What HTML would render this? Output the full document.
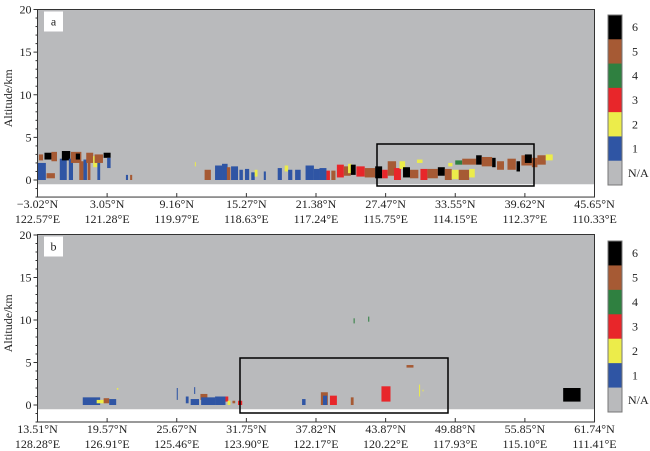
<!DOCTYPE html>
<html><head><meta charset="utf-8"><style>
body{margin:0;background:#fff;}
svg{display:block;}
svg text{font-family:"Liberation Serif","Times New Roman",Times,serif;}
</style></head><body>
<svg id="chart" width="650" height="451"></svg>
<script>
const classColors = ["#b9babc","#2f55a4","#ecec4a","#e8262a","#2f8040","#a65a34","#000000"];
const classLabels = ["N/A","1","2","3","4","5","6"];
const ticksA = ["−3.02°N|122.57°E","3.05°N|121.28°E","9.16°N|119.97°E","15.27°N|118.63°E","21.38°N|117.24°E","27.47°N|115.75°E","33.55°N|114.15°E","39.62°N|112.37°E","45.65°N|110.33°E"];
const ticksB = ["13.51°N|128.28°E","19.57°N|126.91°E","25.67°N|125.46°E","31.75°N|123.90°E","37.82°N|122.17°E","43.87°N|120.22°E","49.88°N|117.93°E","55.85°N|115.10°E","61.74°N|111.41°E"];
const yTicks = [0,5,10,15,20];
// blocks: [start index, width index, bottom km, top km, class]
const blocksA = [
[0,0.12,0,2,1],[0.02,0.06,2.3,3.0,5],[0.1,0.1,2.4,3.2,6],[0.13,0.12,0.2,0.8,5],[0.2,0.08,2.2,3.3,5],
[0.32,0.1,0,2.5,1],[0.35,0.12,2.3,3.4,6],[0.45,0.06,0,2.5,1],[0.48,0.15,2.0,3.3,5],[0.55,0.06,2.4,3.1,6],
[0.6,0.06,0,2.2,5],[0.66,0.05,0,2.4,1],[0.7,0.1,2.0,3.2,5],[0.72,0.04,0,2.2,5],[0.8,0.06,1.5,2.8,2],
[0.82,0.12,2.0,3.0,5],[0.86,0.04,0,2.0,1],[0.95,0.1,2.6,3.2,6],[1.0,0.05,1.4,2.6,1],
[1.27,0.03,0,0.6,1],[1.33,0.03,0,0.6,5],[2.26,0.01,1.6,2.1,2],
[2.4,0.09,0,1.2,5],[2.55,0.1,0,1.7,1],[2.65,0.08,0,1.9,1],[2.72,0.05,0,1.5,5],[2.78,0.1,0,1.6,1],[2.9,0.05,0,1.2,1],
[2.98,0.06,0,1.3,1],[3.07,0.05,0,0.9,1],[3.12,0.04,0.4,1.2,2],[3.25,0.03,0,1.0,1],[3.45,0.06,0,1.4,1],
[3.55,0.05,1.0,1.7,2],[3.6,0.06,0,1.2,1],[3.7,0.08,0,1.2,1],[3.85,0.12,0,1.7,1],[3.97,0.08,0,1.3,1],
[4.05,0.1,0,1.4,1],[4.15,0.05,0,1.1,3],[4.22,0.06,0,1.1,5],[4.3,0.1,0.3,1.8,3],[4.4,0.1,0.5,1.6,5],
[4.46,0.05,0.8,1.9,2],[4.5,0.07,0.6,1.8,6],[4.58,0.12,0.4,1.6,3],[4.7,0.15,0.3,1.4,5],[4.85,0.1,0.2,1.6,6],
[4.95,0.08,0.2,1.2,3],[5.03,0.12,0.5,2.2,5],[5.12,0.1,0,1.4,3],[5.2,0.08,1.3,2.2,2],[5.25,0.1,0.3,1.5,6],
[5.35,0.12,0.2,1.2,5],[5.45,0.08,2.0,2.4,2],[5.5,0.1,0,1.3,3],[5.6,0.15,0.2,1.3,5],[5.75,0.1,0.5,1.5,6],
[5.85,0.1,0,1.3,5],[5.9,0.06,1.6,2.0,2],[5.95,0.1,0.1,1.2,2],[6.0,0.1,1.8,2.3,4],[6.05,0.15,0,1.2,5],
[6.1,0.2,1.8,2.5,5],[6.2,0.08,0.3,1.3,2],[6.3,0.08,1.8,2.9,6],[6.38,0.15,1.6,2.7,5],[6.53,0.05,1.5,2.6,6],
[6.6,0.1,1.2,2.2,5],[6.75,0.12,1.2,2.5,5],[6.88,0.05,1.0,2.2,6],[6.95,0.15,1.7,2.9,5],[7.0,0.1,2.0,3.0,6],
[7.1,0.08,1.5,2.6,5],[7.18,0.12,1.8,2.9,5],[7.3,0.1,2.3,3.0,2]
];
const blocksB = [
[0.65,0.25,0,0.9,1],[0.85,0.12,0.2,0.6,2],[0.95,0.08,0.2,0.8,5],[1.03,0.1,0,0.7,1],[1.14,0.02,1.8,2.0,2],
[2.0,0.015,0.6,2.0,1],[2.13,0.04,0.2,1.0,1],[2.25,0.015,1.3,2.1,1],[2.2,0.12,0,0.7,1],[2.34,0.1,0.6,1.3,5],
[2.35,0.2,0,0.9,1],[2.55,0.15,0,1.0,1],[2.7,0.04,0.4,1.0,3],[2.73,0.04,0,0.5,2],[2.8,0.04,0.2,0.5,5],[2.88,0.06,0,0.5,3],
[3.8,0.05,0,0.7,1],[4.07,0.1,0,1.5,5],[4.1,0.06,0,1.1,1],[4.2,0.1,0,1.1,3],[4.5,0.04,0,0.9,5],
[4.54,0.015,9.6,10.2,4],[4.75,0.015,9.8,10.4,4],[4.94,0.13,0.4,2.2,3],[5.3,0.1,4.4,4.7,5],
[5.48,0.015,1.0,2.4,2],[5.53,0.01,1.6,1.8,2],[7.55,0.25,0.4,2.0,6]
];
const NS="http://www.w3.org/2000/svg";
const svg=document.getElementById('chart');
const FF='"Liberation Serif","Times New Roman",Times,serif';
function mk(tag,attrs,parent){const e=document.createElementNS(NS,tag);for(const k in attrs)e.setAttribute(k,attrs[k]);if(tag==='text')e.setAttribute('font-family',FF);(parent||svg).appendChild(e);return e;}
function panel(cfg){
  const g=mk('g',{});
  
  
  const x0=37.5,x1=594.5,yTop=cfg.top,y0=cfg.zero,pk=(cfg.zero-cfg.y20)/20;
  const xs=u=>x0+u*(x1-x0)/8, ys=k=>y0-k*pk;
  const bot=ys(-2);
  const bg=mk('rect',{x:x0,y:yTop,width:x1-x0,height:ys(-0.5)-yTop,fill:classColors[0]},g);
  
  
  cfg.blocks.forEach(b=>{
    const r=mk('rect',{x:xs(b[0]),y:ys(b[3]),width:Math.max(1,xs(b[0]+b[1])-xs(b[0])),height:ys(b[2])-ys(b[3]),fill:classColors[b[4]]},g);
    
    
  });
  const fr=mk('rect',{x:x0,y:yTop,width:x1-x0,height:bot-yTop,fill:'none',stroke:'#333','stroke-width':1},g);
  
  
  for(let k=-2;k<=20;k++){mk('line',{x1:x0,x2:x0-(k%5===0?4:2),y1:ys(k),y2:ys(k),stroke:'#333'},g);}
  yTicks.forEach(v=>{const t=mk('text',{x:x0-6,y:ys(v)+4,'text-anchor':'end','font-size':12,fill:'#222'},g);t.textContent=v;
    });
  const yt=mk('text',{x:12,y:(yTop+bot)/2-5,'text-anchor':'middle','font-size':12,fill:'#222',transform:`rotate(-90 12 ${(yTop+bot)/2-5})`},g);
  yt.textContent='Altitude/km';
  
  cfg.ticks.forEach((s,i)=>{const x=xs(i);mk('line',{x1:x,x2:x,y1:bot,y2:bot-4,stroke:'#333'},g);
    const p=s.split('|');
    const t1=mk('text',{x:x,y:bot+11,'text-anchor':'middle','font-size':12,fill:'#222'},g);t1.textContent=p[0];
    
    const t2=mk('text',{x:x,y:bot+26,'text-anchor':'middle','font-size':12,fill:'#222'},g);t2.textContent=p[1];
    });
  const lb=mk('rect',{x:44,y:yTop+2,width:19,height:20,fill:'#fff'},g);
  
  const lt=mk('text',{x:53.5,y:yTop+16,'text-anchor':'middle','font-size':12,fill:'#222'},g);lt.textContent=cfg.id;
  
  const hb=mk('rect',{x:cfg.box[0],y:cfg.box[1],width:cfg.box[2]-cfg.box[0],height:cfg.box[3]-cfg.box[1],fill:'none',stroke:'#000','stroke-width':1.5},g);
  
  const cb=cfg.cb, seg=(cb[1]-cb[0])/7;
  for(let i=0;i<7;i++){const c=6-i;
    const r=mk('rect',{x:608,y:cb[0]+i*seg,width:14,height:seg+0.5,fill:classColors[c]},g);
    
    const t=mk('text',{x:c===0?628:632,y:cb[0]+i*seg+seg/2+4,'font-size':12,fill:'#222'},g);t.textContent=classLabels[c];
    }
  const cf=mk('rect',{x:608,y:cb[0],width:14,height:cb[1]-cb[0],fill:'none',stroke:'#777'},g);
  
}
panel({id:'a',top:9.5,y20:9.5,zero:180,blocks:blocksA,ticks:ticksA,box:[377,144,534,186],cb:[15,185]});
panel({id:'b',top:234.5,y20:235,zero:405,blocks:blocksB,ticks:ticksB,box:[240,358,448,413],cb:[241,412]});
</script>
</body></html>
